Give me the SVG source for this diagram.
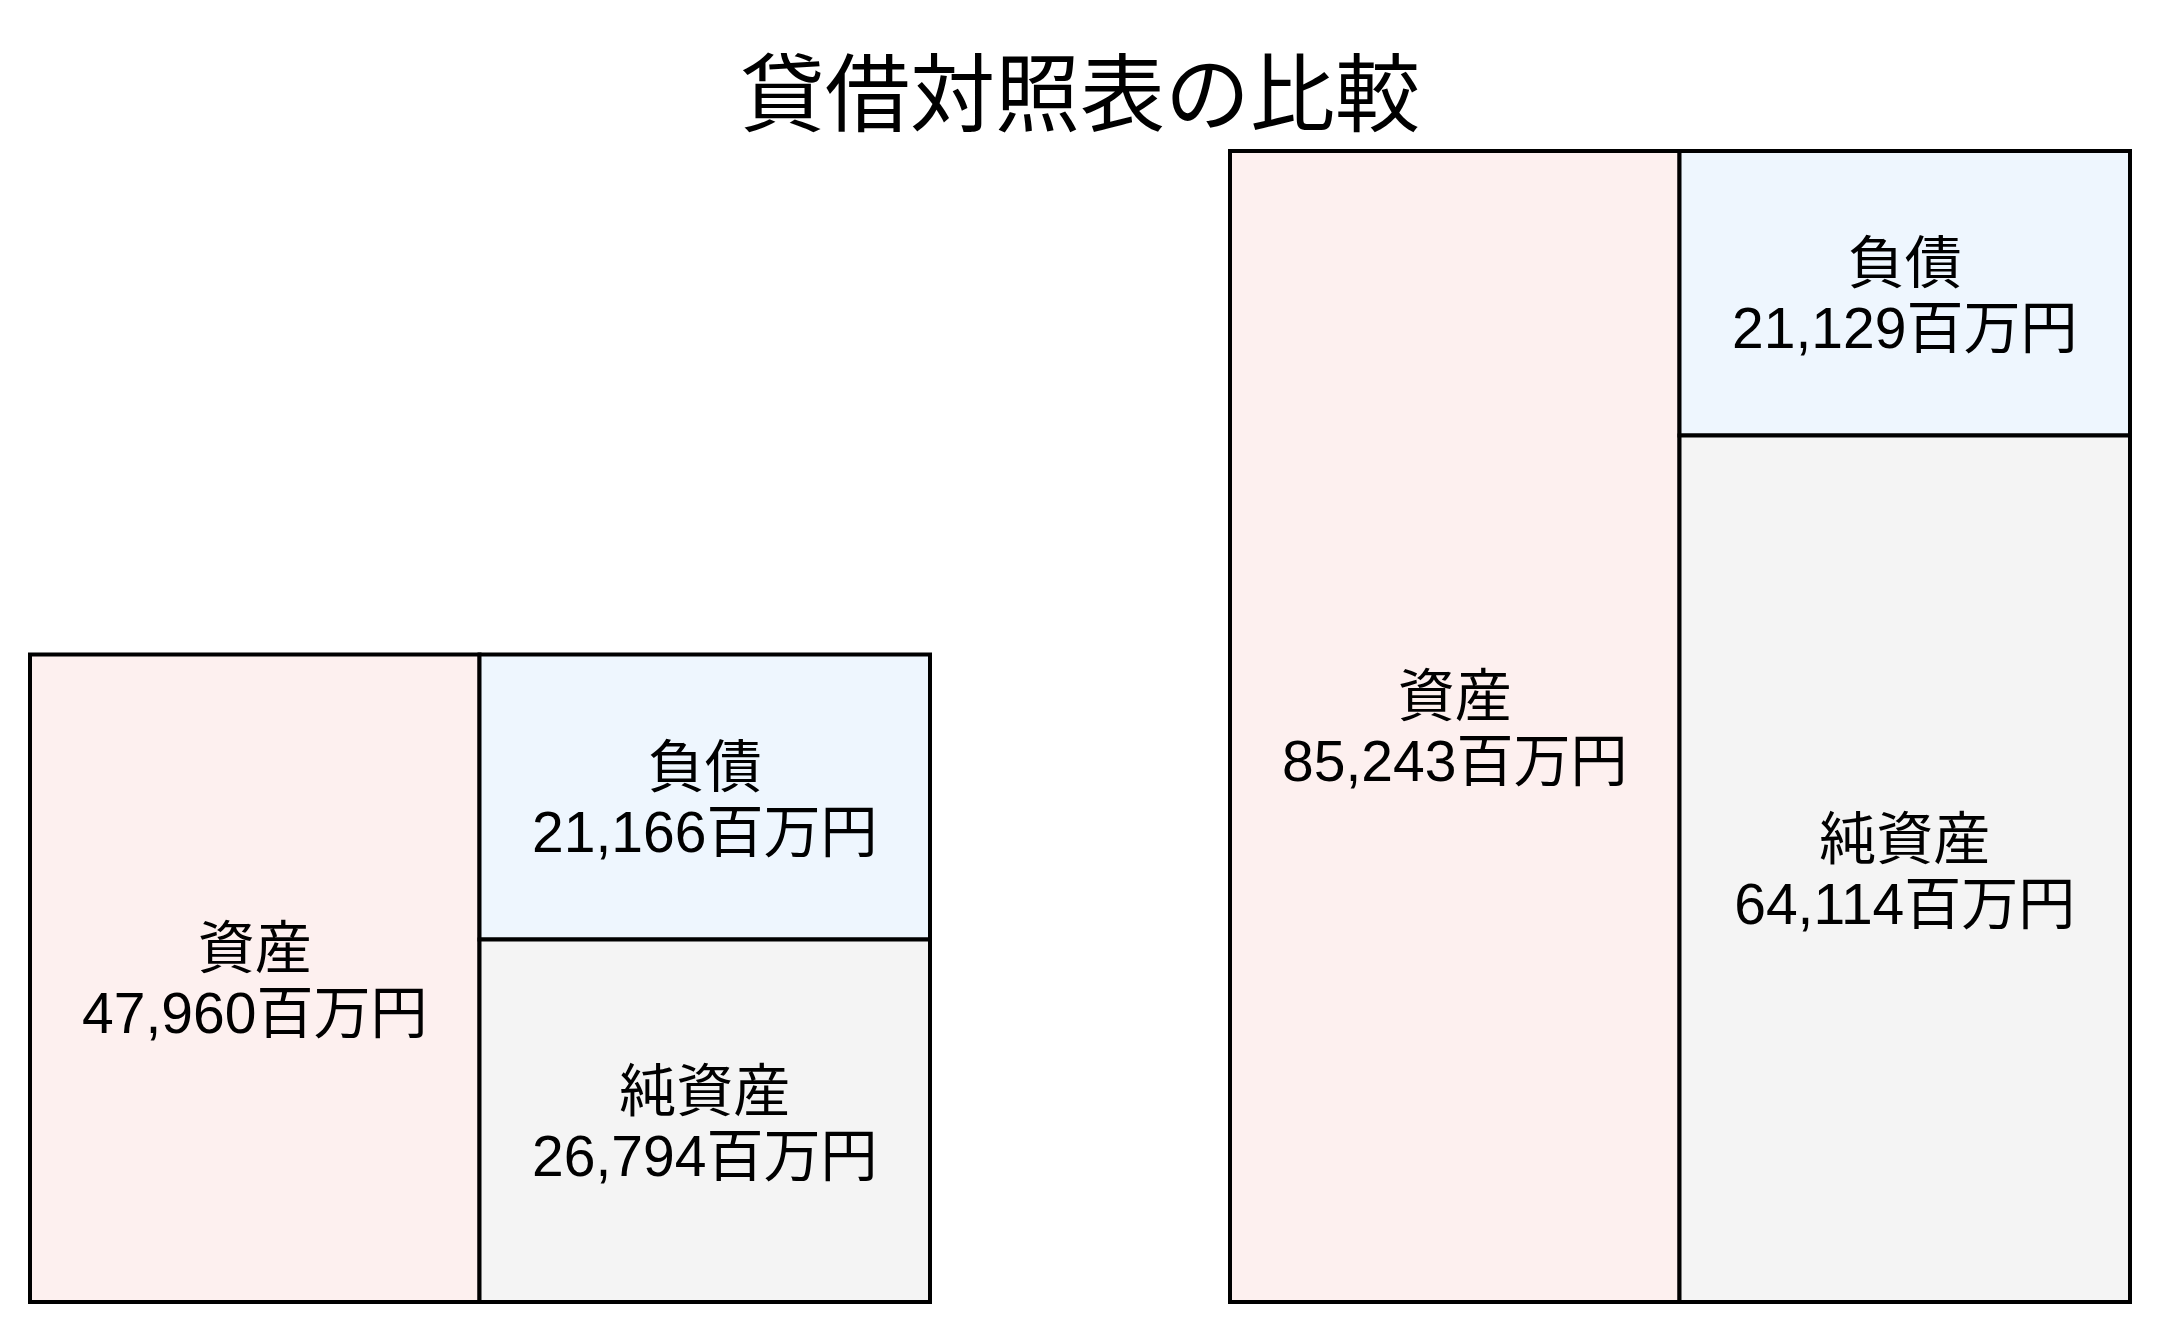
<svg xmlns="http://www.w3.org/2000/svg" width="2160" height="1333" viewBox="0 0 2160 1333">
<style>
.box{stroke:#000;stroke-width:4}
.asset{fill:#fdf0ef}
.liab{fill:#eef6fe}
.net{fill:#f4f4f4}
.lbl{font-family:"Liberation Sans","Noto Sans CJK JP",sans-serif;font-size:57px;fill:#000;text-anchor:middle}
.title{font-family:"Liberation Sans","Noto Sans CJK JP",sans-serif;font-size:85px;fill:#000;text-anchor:middle}
</style>
<rect width="2160" height="1333" fill="#fff"/>
<text class="title" x="1080" y="125">貸借対照表の比較</text>
<g id="left-asset">
<rect class="box asset" x="30" y="654.5" width="449.5" height="647.5"/>
<text class="lbl" x="254.75" y="968">資産</text>
<text class="lbl" x="254.75" y="1033">47,960百万円</text>
</g>
<g id="left-liability">
<rect class="box liab" x="479.5" y="654.5" width="450.5" height="285"/>
<text class="lbl" x="704.75" y="787">負債</text>
<text class="lbl" x="704.75" y="852">21,166百万円</text>
</g>
<g id="left-net">
<rect class="box net" x="479.5" y="939.5" width="450.5" height="362.5"/>
<text class="lbl" x="704.75" y="1111">純資産</text>
<text class="lbl" x="704.75" y="1176">26,794百万円</text>
</g>
<g id="right-asset">
<rect class="box asset" x="1230" y="151" width="449.5" height="1151"/>
<text class="lbl" x="1454.75" y="716">資産</text>
<text class="lbl" x="1454.75" y="781">85,243百万円</text>
</g>
<g id="right-liability">
<rect class="box liab" x="1679.5" y="151" width="450.5" height="284.5"/>
<text class="lbl" x="1904.75" y="283">負債</text>
<text class="lbl" x="1904.75" y="348">21,129百万円</text>
</g>
<g id="right-net">
<rect class="box net" x="1679.5" y="435.5" width="450.5" height="866.5"/>
<text class="lbl" x="1904.75" y="859">純資産</text>
<text class="lbl" x="1904.75" y="924">64,114百万円</text>
</g>
<g id="connectors"></g>
</svg>
